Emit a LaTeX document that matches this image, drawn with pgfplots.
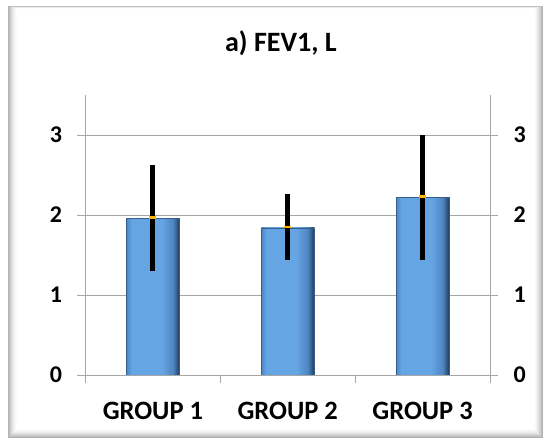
\documentclass[border=0pt]{standalone}
\usepackage{pgfplots}
\pgfplotsset{compat=1.18}
\usepackage{fontspec}
\setmainfont{Carlito}
\definecolor{axgray}{HTML}{A6A6A6}
\definecolor{bA}{HTML}{4C86C6}
\definecolor{bB}{HTML}{66A5E4}
\definecolor{bC}{HTML}{4F86C0}
\definecolor{bD}{HTML}{1E3A5C}
\definecolor{mk}{HTML}{FFB300}
\pgfdeclarehorizontalshading{barshade}{100bp}{color(0bp)=(bA); color(25bp)=(bA); color(30bp)=(bB); color(58bp)=(bB); color(69bp)=(bC); color(75bp)=(bD); color(100bp)=(bD)}
\begin{document}
\begin{tikzpicture}[x=1pt,y=1pt]
% frame with inner shadow
\fill[gray!60] (8,3) rectangle (543,435);
\foreach \i/\c in {1/50,2/40,3/31,4/23,5/16,6/10,7/5,8/2}{
  \fill[gray!\c] (8+\i,3+\i) rectangle (543-\i,435-0.3*\i);
}
\fill[white] (17,12) rectangle (534,432);
\pgfplotsset{
  common/.style={
    at={(85.5pt,66pt)}, anchor=south west,
    scale only axis, width=404.5pt, height=280pt,
    xmin=0.5, xmax=3.5, ymin=0, ymax=3.5,
    ytick={0,1,2,3},
    axis line style={axgray, line width=0.9pt, -},
    tick align=outside, major tick length=8pt, minor tick length=8pt,
    y tick style={axgray, line width=0.9pt},
    ticklabel style={font=\fontsize{24}{28}\selectfont\bfseries},
    /pgf/number format/assume math mode=true,
  },
  onebar/.style={ybar, bar width=53pt, bar shift=0pt, draw=bA!70!black, line width=0.3pt, shading=barshade, forget plot},
}
\begin{axis}[common,
  axis x line*=bottom, axis y line*=left,
  ymajorgrids, grid style={axgray, line width=0.9pt},
  xtick={1,2,3}, xticklabels={GROUP 1, GROUP 2, GROUP 3},
  major x tick style={draw=none},
  minor xtick={0.5,1.5,2.5,3.5},
  minor x tick style={axgray, line width=0.9pt},
  xticklabel style={font=\fontsize{26.5}{30}\selectfont\bfseries, yshift=-16pt},
  yticklabel style={xshift=-12pt},
  title={a) FEV1, L},
  title style={font=\fontsize{28}{32}\selectfont\bfseries, at={(0.483,1)}, anchor=base, yshift=37.5pt},
]
\addplot[onebar] coordinates {(1,1.96)};
\addplot[onebar] coordinates {(2,1.84)};
\addplot[onebar] coordinates {(3,2.22)};
\addplot[draw=none, mark=none, forget plot,
  error bars/.cd, y dir=both, y explicit,
  error bar style={line width=5pt, black}, error mark=none]
  table[x=x, y=y, y error plus=ep, y error minus=em] {
x y ep em
1 1.96 0.67 0.66
2 1.84 0.42 0.40
3 2.22 0.78 0.78
};
\addplot[only marks, mark=-, mark size=3.5pt, mark options={draw=mk, line width=2.5pt}] coordinates {(1,1.97) (2,1.85) (3,2.23)};
\end{axis}
\begin{axis}[common,
  axis x line=none, axis y line*=right,
  yticklabel style={xshift=12pt},
]
\addplot[draw=none, mark=none] coordinates {(1,0)};
\end{axis}
\pgfresetboundingbox
\path[use as bounding box] (0,0) rectangle (546,441);
\end{tikzpicture}
\end{document}
